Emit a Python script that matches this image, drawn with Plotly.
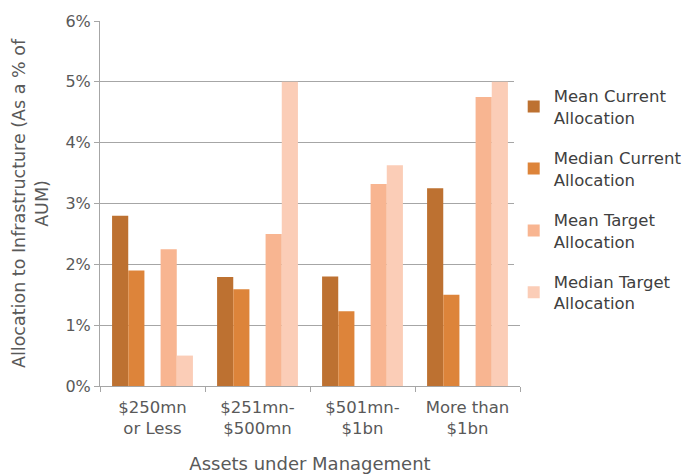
import plotly.graph_objects as go

categories = ["$250mn<br>or Less", "$251mn-<br>$500mn", "$501mn-<br>$1bn", "More than<br>$1bn"]
mean_current = [2.80, 1.79, 1.80, 3.25]
median_current = [1.90, 1.59, 1.23, 1.50]
mean_target = [2.25, 2.50, 3.32, 4.75]
median_target = [0.50, 5.00, 3.63, 5.00]
y_ticks = [0, 1, 2, 3, 4, 5, 6]
y_tick_labels = ["0%", "1%", "2%", "3%", "4%", "5%", "6%"]

font_family = "'DejaVu Sans', sans-serif"
text_color = "#595959"

series = [
    ("Mean Current<br>Allocation", mean_current, "#BD7131"),
    ("Median Current<br>Allocation", median_current, "#DD843A"),
    (None, None, None),
    ("Mean Target<br>Allocation", mean_target, "#F8B591"),
    ("Median Target<br>Allocation", median_target, "#FBCDB7"),
]

fig = go.Figure()
for i, (name, vals, color) in enumerate(series):
    if name is None:
        fig.add_trace(go.Bar(x=categories, y=[None] * len(categories), showlegend=False,
                             hoverinfo="skip", marker_color="rgba(0,0,0,0)"))
        continue
    fig.add_trace(go.Bar(x=categories, y=vals, name=name, marker_color=color,
                         marker_line_width=0, legendgroup=f"g{i}"))

fig.update_layout(
    width=690, height=475,
    margin=dict(l=100, r=170, t=21, b=89, autoexpand=False),
    paper_bgcolor="white", plot_bgcolor="white",
    barmode="group", bargap=0.23, bargroupgap=0,
    font=dict(family=font_family, size=16, color=text_color),
    legend=dict(x=0.985, y=0.842, xanchor="left", yanchor="top",
                font=dict(size=16.5, color="#404040"), tracegroupgap=16,
                itemsizing="constant", itemwidth=30),
    xaxis=dict(showline=True, linecolor="#A6A6A6", linewidth=1,
               ticks="outside", tickson="boundaries", ticklen=5, tickcolor="#A6A6A6",
               tickfont=dict(size=16.5), ticklabelstandoff=6,
               title=dict(text="Assets under Management", standoff=20,
                          font=dict(size=18, color=text_color))),
    yaxis=dict(range=[0, 6], tickvals=y_ticks, ticktext=y_tick_labels,
               showline=True, linecolor="#A6A6A6", linewidth=1,
               ticks="outside", ticklen=5, tickcolor="#A6A6A6",
               tickfont=dict(size=16),
               showgrid=True, gridcolor="#A6A6A6", gridwidth=1,
               zeroline=False,
               title=dict(text="Allocation to Infrastructure (As a % of<br>AUM)",
                          standoff=12, font=dict(size=17.5, color=text_color))),
)

fig.write_html("out.html")
